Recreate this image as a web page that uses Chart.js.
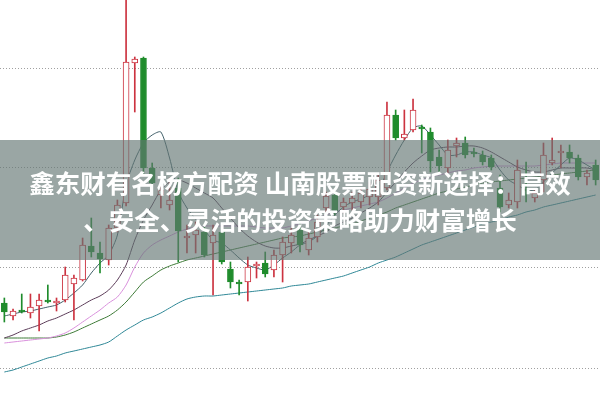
<!DOCTYPE html>
<html>
<head>
<meta charset="utf-8">
<script src="https://cdn.jsdelivr.net/npm/chart.js@4/dist/chart.umd.min.js"></script>
<style>
  html, body { margin: 0; padding: 0; background: #fff; }
  #wrap { position: relative; width: 600px; height: 401px; overflow: hidden; }
  #band {
    position: absolute; left: 0; top: 140px; width: 600px; height: 120px;
    background: rgba(100, 118, 115, 0.65);
    display: flex; align-items: center; justify-content: center;
    color: #fff; font-family: "Noto Sans CJK SC", sans-serif; font-weight: bold;
    font-size: 25.5px; line-height: 37px; text-align: center; white-space: nowrap;
  }
</style>
</head>
<body>
<div id="wrap">
  <canvas id="grafico" width="600" height="401"></canvas>
  <div id="band"><div>鑫东财有名杨方配资 山南股票配资新选择：高效<br>、安全、灵活的投资策略助力财富增长</div></div>
</div>
<script>
// K线数据（日线，69根）
const dias = Array.from({ length: 69 }, (_, i) => 'D' + (i + 1));

const abertura = [11.5, 10.2, 10.8, 10.5, 11.2, 11.8, 11.5, 11.8, 13.4, 13.8, 17.2, 16.5, 15.8, 19.0, 21.5, 35.5, 36.0, 25.0, 22.3, 21.3,
  23.0, 18.0, 18.3, 18.6, 17.5, 18.6, 14.9, 13.6, 13.6, 15.2, 15.5, 14.8, 16.3, 17.5, 19.0, 16.8, 18.1, 21.0, 22.3, 21.1,
  21.5, 21.6, 22.1, 22.1, 23.0, 30.3, 28.0, 28.8, 29.1, 28.6, 26.1, 25.0, 27.2, 27.5, 26.6, 26.3, 26.0, 23.0, 21.3, 21.6,
  22.9, 22.0, 23.8, 25.5, 26.5, 26.6, 26.0, 24.1, 25.3];
const maxima = [12.0, 10.9, 12.4, 12.4, 12.4, 13.3, 12.0, 15.1, 14.3, 18.0, 20.0, 17.6, 19.3, 21.8, 42.8, 36.1, 36.1, 25.5, 23.8, 24.0,
  24.0, 19.3, 19.6, 19.1, 19.3, 19.1, 15.6, 13.8, 16.1, 15.6, 16.6, 16.8, 18.1, 19.0, 19.6, 18.6, 20.3, 22.6, 23.0, 22.0,
  22.6, 23.0, 23.6, 24.3, 31.6, 30.8, 30.8, 31.9, 29.3, 29.0, 26.8, 27.8, 28.0, 28.1, 27.0, 26.7, 26.3, 24.3, 22.5, 25.8,
  25.6, 22.8, 27.5, 28.0, 27.3, 27.3, 26.3, 24.8, 25.8];
const minimas = [9.6, 9.8, 10.5, 10.0, 8.7, 11.5, 10.7, 11.6, 9.8, 13.7, 16.1, 14.5, 15.3, 18.6, 21.2, 30.6, 24.3, 23.3, 21.0, 20.8,
  15.6, 16.5, 16.5, 16.1, 12.3, 15.4, 13.0, 12.3, 11.7, 14.0, 14.1, 14.1, 13.6, 16.5, 16.6, 16.3, 17.6, 20.3, 20.3, 20.5,
  20.8, 21.0, 21.3, 21.3, 22.8, 27.8, 27.8, 28.6, 26.5, 24.6, 24.6, 24.5, 26.1, 26.0, 26.1, 25.3, 24.8, 20.6, 21.0, 21.0,
  21.6, 21.6, 22.6, 25.3, 25.0, 25.5, 23.8, 23.3, 23.3];
const fecho = [10.6, 10.7, 10.6, 11.1, 11.8, 11.6, 11.7, 14.3, 14.0, 17.3, 16.6, 15.9, 19.0, 21.3, 35.6, 35.9, 25.0, 23.5, 22.8, 21.8,
  18.7, 18.2, 18.8, 16.3, 18.3, 15.6, 13.6, 13.4, 15.1, 15.4, 14.4, 16.3, 17.6, 18.3, 17.3, 18.0, 19.6, 22.2, 20.7, 21.6,
  22.0, 22.5, 22.9, 23.8, 30.3, 28.0, 28.4, 30.8, 28.9, 25.7, 25.2, 26.8, 27.5, 26.3, 26.4, 25.6, 25.1, 21.1, 21.8, 24.8,
  22.7, 22.5, 26.3, 25.8, 26.7, 26.0, 24.1, 24.5, 23.8];

// Médias móveis
const ma5 = [10.2, 10.4, 10.6, 10.7, 10.9, 11.1, 11.3, 11.8, 12.5, 13.3, 14.5, 15.5, 16.3, 18.3, 23.3, 25.8, 27.5, 28.3, 28.6, 26.0,
  22.6, 21.0, 19.9, 18.8, 17.8, 17.5, 16.8, 16.0, 15.3, 15.0, 14.8, 15.3, 16.0, 16.6, 17.3, 17.6, 18.2, 19.2, 20.3, 21.1,
  21.6, 21.9, 22.3, 22.8, 24.6, 26.3, 27.8, 29.0, 29.2, 28.3, 27.3, 26.3, 26.3, 26.6, 26.6, 26.3, 26.0, 24.8, 23.8, 23.3,
  22.8, 22.8, 23.6, 24.5, 25.3, 26.0, 25.8, 25.3, 24.8];
const ma10 = [8.0, 8.3, 8.7, 9.0, 9.3, 9.7, 10.0, 10.4, 10.8, 11.3, 11.8, 12.2, 12.8, 13.8, 15.3, 17.8, 19.8, 21.3, 22.8, 23.6,
  23.8, 23.5, 23.0, 22.5, 22.0, 21.0, 20.0, 19.0, 18.2, 17.6, 17.2, 17.0, 17.0, 17.2, 17.4, 17.8, 18.2, 18.6, 19.2, 19.6,
  20.0, 20.5, 21.0, 21.6, 22.6, 23.6, 24.6, 25.5, 26.2, 26.8, 27.0, 27.1, 27.1, 27.2, 27.2, 27.0, 26.6, 26.1, 25.6, 25.1,
  24.8, 24.6, 24.6, 24.8, 25.0, 25.0, 25.0, 25.0, 24.8];
const ma20 = [7.5, 7.6, 7.7, 7.8, 7.9, 8.0, 8.2, 8.5, 9.0, 9.6, 10.2, 10.8, 11.5, 12.1, 13.3, 15.1, 16.5, 17.3, 17.8, 18.2,
  18.6, 18.9, 19.1, 19.2, 19.2, 19.2, 19.2, 19.2, 19.2, 19.1, 19.0, 19.0, 19.0, 19.2, 19.4, 19.7, 20.0, 20.3, 20.6, 20.8,
  21.0, 21.2, 21.4, 21.6, 22.0, 22.5, 23.0, 23.5, 23.8, 24.1, 24.3, 24.5, 24.7, 24.8, 25.0, 25.1, 25.2, 25.2, 25.2, 25.2,
  25.2, 25.2, 25.3, 25.4, 25.5, 25.5, 25.5, 25.5, 25.5];
const ma30 = [8.0, 8.0, 8.0, 8.0, 8.0, 8.0, 8.1, 8.3, 8.6, 9.0, 9.4, 9.8, 10.2, 10.8, 11.6, 12.6, 13.6, 14.2, 14.8, 15.2,
  15.5, 15.8, 16.0, 16.2, 16.4, 16.6, 16.8, 17.0, 17.2, 17.4, 17.6, 17.8, 18.0, 18.1, 18.2, 18.4, 18.6, 18.8, 19.0, 19.2,
  19.4, 19.7, 20.0, 20.3, 20.6, 21.0, 21.3, 21.6, 21.9, 22.2, 22.5, 22.7, 22.9, 23.1, 23.3, 23.5, 23.6, 23.7, 23.8, 23.9,
  24.0, 24.1, 24.2, 24.3, 24.4, 24.5, 24.6, 24.7, 24.8];
const ma60 = [4.6, 4.8, 5.1, 5.4, 5.7, 6.0, 6.2, 6.5, 6.7, 6.9, 7.1, 7.3, 7.6, 8.2, 8.8, 9.3, 9.8, 10.1, 10.5, 11.0,
  11.5, 11.9, 12.1, 12.2, 12.2, 12.3, 12.4, 12.5, 12.6, 12.7, 12.8, 12.9, 13.0, 13.2, 13.3, 13.4, 13.6, 13.8, 14.0, 14.2,
  14.5, 14.8, 15.1, 15.5, 15.8, 16.1, 16.5, 16.9, 17.3, 17.6, 17.9, 18.2, 18.5, 18.8, 19.1, 19.4, 19.6, 19.8, 20.1, 20.3,
  20.6, 20.8, 21.1, 21.3, 21.5, 21.7, 21.9, 22.1, 22.3];

// Linhas de grelha do eixo Y
const grelhaY = [5, 15, 25, 35];

const vermelho = '#cc3340';
const verde = '#1f8c2c';
const sobe = fecho.map((c, i) => c >= abertura[i]);

function linha(dados, cor) {
    return {
        type: 'line',
        data: dados,
        borderColor: cor,
        borderWidth: 1,
        pointRadius: 0,
        tension: 0.25,
        order: 3
    };
}

new Chart(document.getElementById('grafico'), {
    type: 'bar',
    data: {
        labels: dias,
        datasets: [
            {
                // pavios
                data: dias.map((_, i) => [minimas[i], maxima[i]]),
                backgroundColor: sobe.map(s => s ? vermelho : verde),
                barThickness: 1,
                grouped: false,
                order: 1
            },
            {
                // corpos
                data: dias.map((_, i) => [abertura[i], fecho[i]]),
                backgroundColor: sobe.map(s => s ? '#ffffff' : verde),
                borderColor: sobe.map(s => s ? vermelho : verde),
                borderWidth: 1,
                borderSkipped: false,
                barThickness: 6,
                grouped: false,
                order: 0
            },
            linha(ma5, '#42606a'),
            linha(ma10, '#5b3b58'),
            linha(ma20, '#d990dc'),
            linha(ma30, '#3d7a36'),
            linha(ma60, '#2e8796')
        ]
    },
    options: {
        responsive: false,
        animation: false,
        layout: { padding: 0 },
        plugins: { legend: { display: false }, tooltip: { enabled: false } },
        scales: {
            x: { display: false },
            y: {
                min: 1.7,
                max: 41.8,
                afterBuildTicks: eixo => { eixo.ticks = grelhaY.map(v => ({ value: v })); },
                ticks: { display: false },
                grid: { color: '#a0a0a0', drawTicks: false, lineWidth: 1 },
                border: { display: false, dash: [1, 2] }
            }
        }
    }
});
</script>
</body>
</html>
